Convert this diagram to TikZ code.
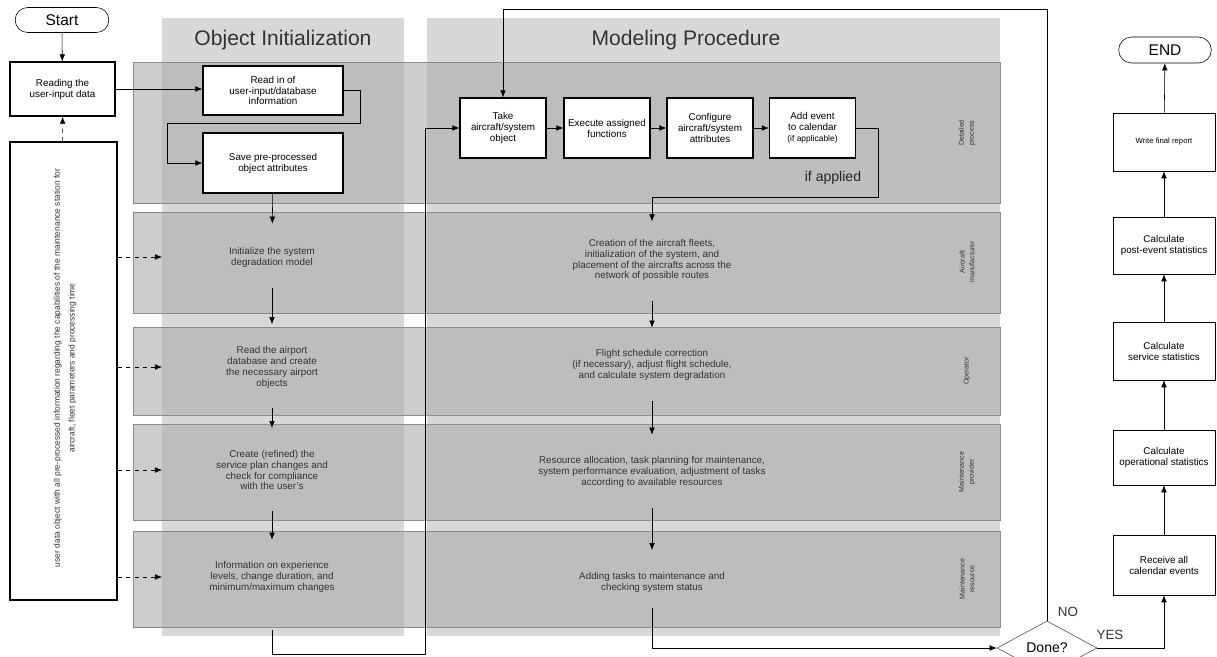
\documentclass[tikz,border=0pt]{standalone}
\usepackage{fontspec}
\setmainfont{Liberation Sans}
\usetikzlibrary{shapes.geometric,shapes.misc,arrows.meta}
\definecolor{colbg}{HTML}{D8D8D8}
\definecolor{lanebg}{HTML}{CDCDCD}
\definecolor{lanein}{HTML}{BDBDBD}
\definecolor{laneline}{HTML}{8C8C8C}
\tikzset{
  box/.style={draw, fill=white, line width=0.9pt, align=center, inner sep=1pt, font=\fontsize{7}{7.8}\selectfont},
  rbox/.style={draw, fill=white, thin, align=center, inner sep=1pt, minimum width=2.55cm, font=\fontsize{7}{7.8}\selectfont},
  term/.style={draw, fill=white, thin, rounded rectangle, font=\fontsize{11}{12}\selectfont},
  txt/.style={align=center, text=black!80, font=\fontsize{7}{7.8}\selectfont},
  lanelbl/.style={rotate=90, align=center, text=black!80, font=\fontsize{5}{7}\selectfont},
  coltitle/.style={text=black!80, font=\fontsize{15}{18}\selectfont},
  flow/.style={-{Latex[length=5pt,width=4pt]}, thin},
  dflow/.style={-{Latex[length=5pt,width=4pt]}, thin, dashed},
  lanearrow/.style={flow, shorten <=11pt, shorten >=12pt},
}
\begin{document}
\begin{tikzpicture}[x=0.025cm,y=-0.025cm]
\useasboundingbox (0,0) rectangle (1217,657);
\fill[white] (0,0) rectangle (1217,657);
%columns and lanes
\fill[colbg] (162,18) rectangle (404,636);
\fill[colbg] (427,18) rectangle (1000,636);
\node[coltitle] (otitle) at (283,40) {Object Initialization};
\node[coltitle] (mtitle) at (686,40) {Modeling Procedure};
\foreach \ya/\yb in {62/203, 212/313, 327/415, 424/520, 531/627}{
  \fill[lanebg] (133,\ya) rectangle (1000,\yb);
  \fill[lanein] (162,\ya) rectangle (404,\yb);
  \fill[lanein] (427,\ya) rectangle (1000,\yb);
  \draw[laneline, very thin] (133,\ya) rectangle (1000,\yb);
}
\node[lanelbl] (ldet) at (967,133) {Detailed\\process};
\node[lanelbl] (lman) at (967,262) {Aircraft\\manufacturer};
\node[lanelbl] (lop) at (967,371) {Operator};
\node[lanelbl] (lprov) at (967,472) {Maintenance\\provider};
\node[lanelbl] (lres) at (967,579) {Maintenance\\resource};
\coordinate (ocol) at (162,0);
\coordinate (topline) at (0,9);

%left side
\node[term, minimum width=2.575cm, minimum height=0.625cm] (start) at (62,20) {Start};
\node[box, minimum width=2.625cm, minimum height=1.35cm] (reading) at (62.5,89) {Reading the\\user-input data};
\node[box, minimum width=2.675cm, minimum height=11.45cm] (udata) at (63.5,371) {};
\node[rotate=90, align=center, text=black!80, font=\fontsize{6}{10.5}\selectfont] (udtxt) at (65,368)
  {user data object with all pre-processed information regarding the capabilities of the maintenance station for\\aircraft, fleet parameters and processing time};

%object initialization
\node[box, minimum width=3.5cm, minimum height=1.225cm] (readin) at (273,90.5) {Read in of\\user-input/database\\information};
\node[box, minimum width=3.5cm, minimum height=1.5cm] (save) at (273,163) {Save pre-processed\\object attributes};
\node[txt] (init) at (272,257) {Initialize the system\\degradation model};
\node[txt] (airport) at (272,367) {Read the airport\\database and create\\the necessary airport\\objects};
\node[txt] (create) at (272,470) {Create (refined) the\\service plan changes and\\check for compliance\\with the user's};
\node[txt] (info) at (272,577) {Information on experience\\levels, change duration, and\\minimum/maximum changes};

%modeling procedure
\node[box, minimum width=2.15cm, minimum height=1.5cm] (take) at (503,128) {Take\\aircraft/system\\object};
\node[box, minimum width=2.15cm, minimum height=1.5cm] (exec) at (607,128) {Execute assigned\\functions};
\node[box, minimum width=2.15cm, minimum height=1.5cm] (config) at (710,128) {Configure\\aircraft/system\\attributes};
\node[box, minimum width=2.15cm, minimum height=1.5cm] (addev) at (812.5,128) {Add event\\to calendar\\{\fontsize{6}{7}\selectfont(if applicable)}};
\node[text=black!85, font=\fontsize{10}{12}\selectfont] (ifap) at (833,178) {if applied};
\node[txt] (creation) at (652,260) {Creation of the aircraft fleets,\\initialization of the system, and\\placement of the aircrafts across the\\network of possible routes};
\node[txt] (flight) at (652,365) {Flight schedule correction\\(if necessary), adjust flight schedule,\\and calculate system degradation};
\node[txt] (resalloc) at (652,472) {Resource allocation, task planning for maintenance,\\system performance evaluation, adjustment of tasks\\according to available resources};
\node[txt] (adding) at (652,582) {Adding tasks to maintenance and\\checking system status};

%decision and results
\node[draw=black!70, fill=white, thin, diamond, aspect=2, minimum width=2.5cm, minimum height=1.35cm, inner sep=0pt, font=\fontsize{10}{12}\selectfont] (done) at (1047,648) {Done?};
\node[font=\fontsize{9.5}{11}\selectfont, text=black!80] (no) at (1068,612) {NO};
\node[font=\fontsize{9.5}{11}\selectfont, text=black!80] (yes) at (1110,635) {YES};
\node[term, minimum width=2.55cm, minimum height=0.65cm] (endn) at (1165,50) {END};
\node[rbox, minimum height=1.45cm, font=\fontsize{5.5}{7}\selectfont] (write) at (1164,142) {Write final report};
\node[rbox, minimum height=1.425cm] (post) at (1164,245.5) {Calculate\\post-event statistics};
\node[rbox, minimum height=1.45cm] (service) at (1164,351) {Calculate\\service statistics};
\node[rbox, minimum height=1.375cm] (oper) at (1164,457.5) {Calculate\\operational statistics};
\node[rbox, minimum height=1.5cm] (receive) at (1164,565) {Receive all\\calendar events};

%connectors
\draw[flow] (start) -- (reading);
\draw[dflow] (udata) -- (reading);
\draw[flow] (reading.east) -- (reading.east -| readin.west);
\draw[flow] (readin.east) -| (360,123) -| (167,163) -- (save.west);
\draw[flow, shorten >=13pt] (save) -- (init);
\draw[lanearrow] (init) -- (airport);
\draw[lanearrow] (airport) -- (create);
\draw[lanearrow] (create) -- (info);
\foreach \n in {init, airport, create, info}
  \draw[dflow] (udata.east |- \n) -- (ocol |- \n);
\draw[flow, shorten <=23pt] (info.south) |- (425,654) |- (take.west);
\draw[flow] (take) -- (exec);
\draw[flow] (exec) -- (config);
\draw[flow] (config) -- (addev);
\draw[flow, shorten >=9pt] (addev.east) -| (878,197) -| (creation.north);
\draw[lanearrow] (creation) -- (flight);
\draw[lanearrow] (flight) -- (resalloc);
\draw[lanearrow] (resalloc) -- (adding);
\draw[flow, shorten <=8pt] (adding.south) |- (done.west);
\draw[flow] (done.north) -- (done.north |- topline) -| (take.north);
\draw[flow] (done.east) -| (receive.south);
\draw[flow] (receive) -- (oper);
\draw[flow] (oper) -- (service);
\draw[flow] (service) -- (post);
\draw[flow] (post) -- (write);
\draw[flow] (write) -- (endn);
\end{tikzpicture}
\end{document}
